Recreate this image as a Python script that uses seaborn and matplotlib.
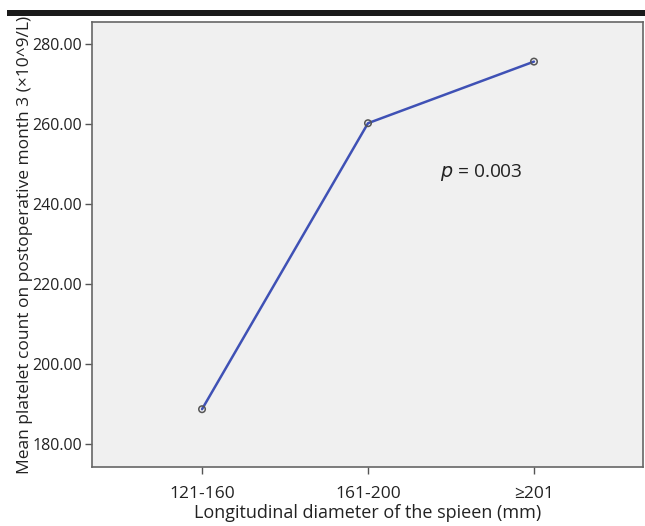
import matplotlib
matplotlib.use("Agg")
import matplotlib.pyplot as plt
import seaborn as sns
import pandas as pd
from matplotlib.patches import Rectangle

categories = ["121-160", "161-200", "≥201"]
mean_platelets = [188.7, 260.2, 275.6]
y_ticks = [180, 200, 220, 240, 260, 280]

sns.set_theme(style="white")
plt.rcParams['font.family'] = ['Open Sans', 'DejaVu Sans']

df = pd.DataFrame({"group": categories, "value": mean_platelets})

fig = plt.figure(figsize=(6.45, 5.26), dpi=100)
ax = fig.add_axes([92/645, 1 - 467/526, (643-92)/645, (467-22)/526])
ax.set_facecolor("#f0f0f0")

sns.lineplot(data=df, x="group", y="value", ax=ax, color="#3f51b5",
             linewidth=1.8, sort=False)
sns.scatterplot(data=df, x="group", y="value", ax=ax, s=22,
                facecolor="none", edgecolor="#555555", linewidth=1.1, zorder=5)

ax.set_xlim(-0.663, 2.657)
ax.set_ylim(174.25, 285.5)
ax.set_yticks(y_ticks)
ax.set_yticklabels([f"{v:.2f}" for v in y_ticks])
ax.tick_params(axis="both", which="both", length=5, width=1, color="#555555",
               labelsize=11.5, labelcolor="#222222", direction="out", pad=2)
ax.tick_params(axis="x", labelsize=12.5, pad=9)
ax.xaxis.set_ticks_position("bottom")
ax.yaxis.set_ticks_position("left")
for s in ax.spines.values():
    s.set_color("#666666")
    s.set_linewidth(1.2)

ax.set_xlabel("Longitudinal diameter of the spieen (mm)", fontsize=13, color="#222222", labelpad=1)
ax.set_ylabel("Mean platelet count on postoperative month 3 (×10^9/L)", fontsize=12.5,
              color="#222222", labelpad=0)

ax.text(1.434, 247.8, "$\\it{p}$ = 0.003", fontsize=13.8, color="#222222", va="center", ha="left")

fig.add_artist(Rectangle((7/645, 1 - 16/526), 1 - 7/645, 6/526,
                         transform=fig.transFigure, color="#1a1a1a", lw=0))

fig.savefig("out.png", dpi=100, facecolor="white")
